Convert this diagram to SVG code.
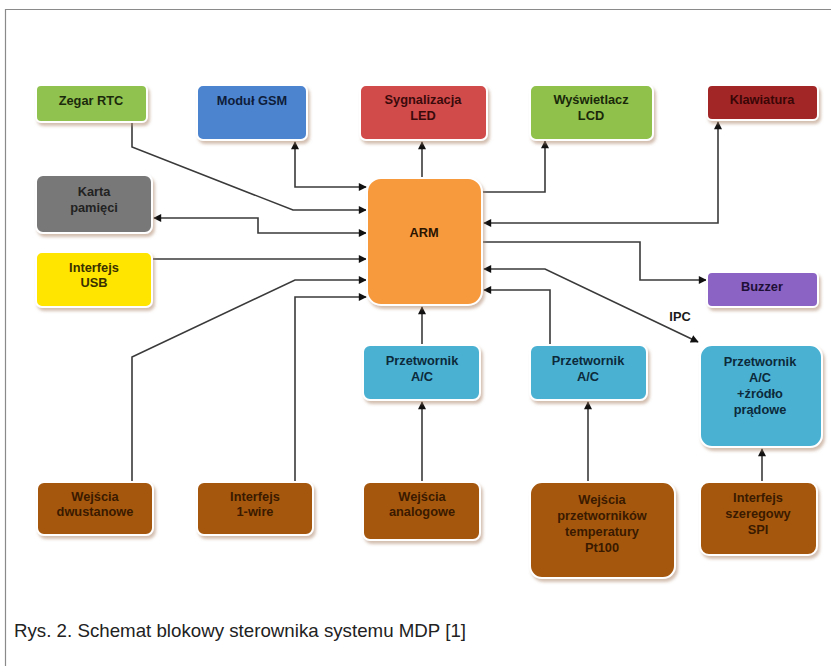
<svg xmlns="http://www.w3.org/2000/svg" width="831" height="666" viewBox="0 0 831 666">
<style>
.frame{fill:none;stroke:#8a8a8a;stroke-width:1.2}
.box{stroke:#ffffff;stroke-width:2;filter:url(#sh)}
.t{font-family:"Liberation Sans",Arial,sans-serif;font-weight:bold;font-size:12.8px;text-anchor:middle;fill:#1a1a1a}
.c{fill:none;stroke:#3a3a3a;stroke-width:1.6}
.cap{font-family:"Liberation Sans",Arial,sans-serif;font-size:19px;fill:#222}
</style>
<defs>
<filter id="sh" x="-20%" y="-20%" width="150%" height="160%">
<feDropShadow dx="2" dy="3" stdDeviation="1.6" flood-color="#b08a70" flood-opacity="0.55"/>
</filter>
<marker id="ar" viewBox="0 0 10 10" refX="9" refY="5" markerWidth="10" markerHeight="8" markerUnits="userSpaceOnUse" orient="auto-start-reverse">
<path d="M0,0 L10,5 L0,10 z" fill="#111"/>
</marker>
</defs>
<rect width="831" height="666" fill="#ffffff"/>
<path class="frame" d="M5.5,666 V9.5 H831"/>

<g id="connectors">
<path class="c" d="M132,122 V147 L293,210 H366" marker-end="url(#ar)"/>
<path class="c" d="M295,142 V187 H366" marker-start="url(#ar)" marker-end="url(#ar)"/>
<path class="c" d="M154,218 H258 V233 H366" marker-start="url(#ar)" marker-end="url(#ar)"/>
<path class="c" d="M152,259 H366" marker-end="url(#ar)"/>
<path class="c" d="M132,482 V357 L295,280 H366" marker-end="url(#ar)"/>
<path class="c" d="M295,482 V297 H366" marker-end="url(#ar)"/>
<path class="c" d="M422,178 V142" marker-end="url(#ar)"/>
<path class="c" d="M482,192 H545 V141" marker-end="url(#ar)"/>
<path class="c" d="M484,223 H718 V122" marker-start="url(#ar)" marker-end="url(#ar)"/>
<path class="c" d="M482,242 H640 V280 H706" marker-end="url(#ar)"/>
<path class="c" d="M484,269 H545 L698,342" marker-start="url(#ar)" marker-end="url(#ar)"/>
<path class="c" d="M550,345 V290 H484" marker-end="url(#ar)"/>
<path class="c" d="M422,345 V307" marker-end="url(#ar)"/>
<path class="c" d="M422,482 V402" marker-end="url(#ar)"/>
<path class="c" d="M588,482 V402" marker-end="url(#ar)"/>
<path class="c" d="M762,482 V449" marker-end="url(#ar)"/>
<text class="t" x="680" y="321">IPC</text>
</g>

<g id="zegar-rtc">
<rect class="box" x="36" y="85" width="111" height="37" rx="5" fill="#8fc24f"/>
<text class="t" x="91" y="105" style="fill:#1c2a0c">Zegar RTC</text>
</g>
<g id="modul-gsm">
<rect class="box" x="197" y="85" width="110" height="55" rx="6" fill="#4d84d0"/>
<text class="t" x="252" y="105" style="fill:#0d1d3a">Moduł GSM</text>
</g>
<g id="sygnalizacja-led">
<rect class="box" x="360" y="85" width="127" height="55" rx="6" fill="#d14b4b"/>
<text class="t" x="423" y="104" style="fill:#3a0a0a">Sygnalizacja</text>
<text class="t" x="423" y="120" style="fill:#3a0a0a">LED</text>
</g>
<g id="wyswietlacz-lcd">
<rect class="box" x="530" y="85" width="123" height="55" rx="6" fill="#8fc14b"/>
<text class="t" x="591" y="104" style="fill:#1a280a">Wyświetlacz</text>
<text class="t" x="591" y="120" style="fill:#1a280a">LCD</text>
</g>
<g id="klawiatura">
<rect class="box" x="707" y="85" width="111" height="35" rx="5" fill="#a32828"/>
<text class="t" x="762" y="104" style="fill:#3a0606">Klawiatura</text>
</g>
<g id="karta-pamieci">
<rect class="box" x="36" y="175" width="116" height="58" rx="7" fill="#787878"/>
<text class="t" x="94" y="196" style="fill:#222">Karta</text>
<text class="t" x="94" y="212" style="fill:#222">pamięci</text>
</g>
<g id="interfejs-usb">
<rect class="box" x="36" y="252" width="116" height="55" rx="6" fill="#ffe500"/>
<text class="t" x="94" y="272" style="fill:#3a3000">Interfejs</text>
<text class="t" x="94" y="287" style="fill:#3a3000">USB</text>
</g>
<g id="arm">
<rect class="box" x="367" y="178" width="115" height="127" rx="14" fill="#f7993e"/>
<text class="t" x="424" y="237" style="fill:#2a1400">ARM</text>
</g>
<g id="buzzer">
<rect class="box" x="707" y="272" width="111" height="35" rx="5" fill="#8b63c4"/>
<text class="t" x="762" y="291" style="fill:#1e0f36">Buzzer</text>
</g>
<g id="przetwornik-1">
<rect class="box" x="363" y="345" width="117" height="55" rx="7" fill="#4bb1d3"/>
<text class="t" x="422" y="365" style="fill:#0c2a3a">Przetwornik</text>
<text class="t" x="422" y="381" style="fill:#0c2a3a">A/C</text>
</g>
<g id="przetwornik-2">
<rect class="box" x="530" y="345" width="117" height="55" rx="7" fill="#4bb1d3"/>
<text class="t" x="588" y="365" style="fill:#0c2a3a">Przetwornik</text>
<text class="t" x="588" y="381" style="fill:#0c2a3a">A/C</text>
</g>
<g id="przetwornik-3">
<rect class="box" x="700" y="345" width="122" height="102" rx="12" fill="#4bb1d3"/>
<text class="t" x="760" y="366" style="fill:#0c2a3a">Przetwornik</text>
<text class="t" x="760" y="382" style="fill:#0c2a3a">A/C</text>
<text class="t" x="760" y="398" style="fill:#0c2a3a">+źródło</text>
<text class="t" x="760" y="414" style="fill:#0c2a3a">prądowe</text>
</g>
<g id="wejscia-dwustanowe">
<rect class="box" x="37" y="482" width="116" height="53" rx="7" fill="#a5580f"/>
<text class="t" x="95" y="501" style="fill:#3a1a00">Wejścia</text>
<text class="t" x="95" y="516" style="fill:#3a1a00">dwustanowe</text>
</g>
<g id="interfejs-1wire">
<rect class="box" x="197" y="482" width="116" height="53" rx="7" fill="#a5580f"/>
<text class="t" x="255" y="501" style="fill:#3a1a00">Interfejs</text>
<text class="t" x="255" y="516" style="fill:#3a1a00">1-wire</text>
</g>
<g id="wejscia-analogowe">
<rect class="box" x="363" y="482" width="117" height="58" rx="7" fill="#a5580f"/>
<text class="t" x="422" y="501" style="fill:#3a1a00">Wejścia</text>
<text class="t" x="422" y="516" style="fill:#3a1a00">analogowe</text>
</g>
<g id="wejscia-pt100">
<rect class="box" x="530" y="482" width="145" height="96" rx="12" fill="#a5580f"/>
<text class="t" x="602" y="504" style="fill:#3a1a00">Wejścia</text>
<text class="t" x="602" y="520" style="fill:#3a1a00">przetworników</text>
<text class="t" x="602" y="536" style="fill:#3a1a00">temperatury</text>
<text class="t" x="602" y="552" style="fill:#3a1a00">Pt100</text>
</g>
<g id="interfejs-spi">
<rect class="box" x="700" y="482" width="117" height="73" rx="9" fill="#a5580f"/>
<text class="t" x="758" y="502" style="fill:#3a1a00">Interfejs</text>
<text class="t" x="758" y="518" style="fill:#3a1a00">szeregowy</text>
<text class="t" x="758" y="534" style="fill:#3a1a00">SPI</text>
</g>

<text class="cap" x="14" y="637" textLength="452" lengthAdjust="spacingAndGlyphs">Rys. 2. Schemat blokowy sterownika systemu MDP [1]</text>
</svg>
